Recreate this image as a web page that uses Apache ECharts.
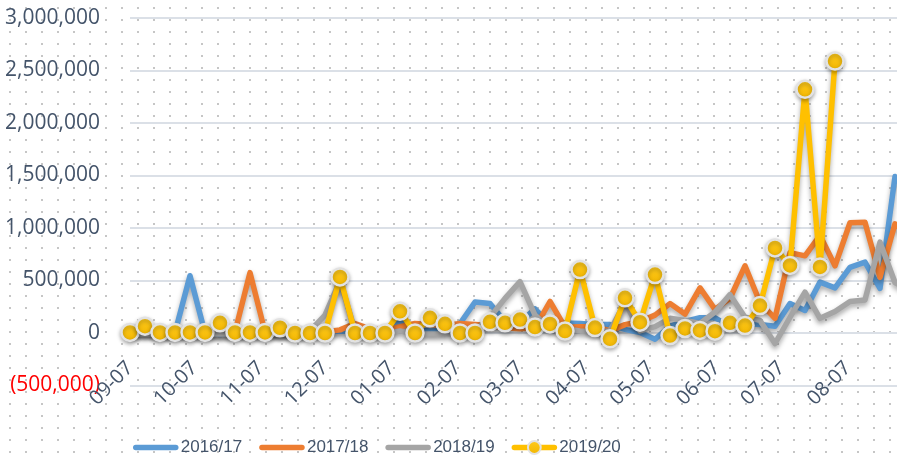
<!DOCTYPE html>
<html>
<head>
<meta charset="utf-8">
<script src="https://cdn.jsdelivr.net/npm/echarts@6/dist/echarts.min.js"></script>
<style>
  html, body { margin: 0; padding: 0; background: #ffffff; overflow: hidden; }
  #chart {
    width: 897px; height: 457px;
    background-color: #ffffff;
    background-image: radial-gradient(circle, #c6c6c6 0.9px, rgba(255,255,255,0) 1.3px);
    background-size: 16px 12px;
    background-position: 2px 2px;
  }
</style>
</head>
<body>
<div id="chart"></div>
<script>
// Weekly series, first week starting 09-07; one value per week.
const seriesNames = ['2016/17', '2017/18', '2018/19', '2019/20'];

const values1617 = [
  5000, 0, 0, 5000, 545000, 0, -15000, 0, 0, 5000,
  0, 0, 5000, 10000, 20000, 15000, 10000, 40000, 110000, 30000,
  20000, 25000, 90000, 295000, 280000, 110000, 100000, 230000, 80000, 95000,
  90000, 80000, 80000, 35000, 5000, -60000, 65000, 110000, 145000, 145000,
  60000, 90000, 80000, 65000, 280000, 215000, 485000, 430000, 625000, 675000,
  425000, 1490000, 1300000
];
const values1718 = [
  0, 20000, 0, 0, 0, 0, 10000, 10000, 575000, 10000,
  0, 0, 0, 10000, 30000, 90000, 40000, 30000, 60000, 90000,
  80000, 70000, 90000, 80000, 70000, 50000, 40000, 50000, 300000, 55000,
  60000, 60000, 20000, 80000, 110000, 170000, 280000, 180000, 430000, 225000,
  330000, 640000, 290000, 140000, 765000, 735000, 930000, 640000, 1050000, 1055000,
  530000, 1040000, 900000
];
const values1819 = [
  -10000, -10000, -10000, -10000, -10000, -10000, -10000, -10000, -5000, -10000,
  -10000, -10000, 20000, 170000, 500000, 20000, -10000, -10000, 20000, -10000,
  -10000, -10000, -10000, 20000, 150000, 330000, 490000, 170000, 40000, 40000,
  20000, 10000, 20000, 290000, 20000, 60000, 140000, 120000, 90000, 200000,
  365000, 150000, 120000, -100000, 150000, 390000, 140000, 205000, 300000, 315000,
  865000, 480000, 400000
];
const values1920 = [
  5000, 65000, 5000, 5000, 5000, 5000, 97000, 5000, 5000, 5000,
  50000, 0, 0, 0, 534000, 0, 0, 0, 207000, 0,
  145000, 87000, 0, 0, 106000, 97000, 128000, 57000, 86000, 19000,
  604000, 52000, -55000, 335000, 103000, 556000, -24000, 43000, 24000, 17000,
  97000, 71000, 261000, 810000, 644000, 2321000, 629000, 2590000
];

// Value axis ticks
const yMin = -500000;
const yMax = 3000000;
const yStep = 500000;

// Daily date axis: 09-07 through the following 09-05
const axisStart = new Date(Date.UTC(2019, 8, 7));
const axisDays = 365;
const pad = n => String(n).padStart(2, '0');
const dayLabels = [];
for (let d = 0; d < axisDays; d++) {
  const dt = new Date(axisStart.getTime() + d * 86400000);
  dayLabels.push(pad(dt.getUTCMonth() + 1) + '-' + pad(dt.getUTCDate()));
}
// Place each weekly value on its day of the axis
const weekly = vals => vals.map((v, i) => [i * 7, v]);

const colors = ['#5b9bd5', '#ed7d31', '#a5a5a5', '#ffc000'];
const textColor = '#44546a';
const fmt = v => Math.abs(v).toLocaleString('en-US');

// plot area geometry
const gridTop = 18;
const gridHeight = 367.5;
const zeroOffset = gridHeight * (0 - yMin) / (yMax - yMin);

const lineShadow = {
  shadowColor: 'rgba(0,0,0,0.35)',
  shadowBlur: 5,
  shadowOffsetY: 3
};

function plainSeries(name, vals, color) {
  return {
    name, type: 'line', data: weekly(vals),
    symbol: 'none', smooth: false,
    lineStyle: Object.assign({ color, width: 5.5, cap: 'round', join: 'round' }, lineShadow),
    itemStyle: { color },
    z: 2
  };
}

const hiddenMarker = { opacity: 0 };

const chart = echarts.init(document.getElementById('chart'), null, { renderer: 'canvas' });
chart.setOption({
  backgroundColor: 'transparent',
  animation: false,
  color: colors,
  grid: {
    left: 130, width: 780, top: gridTop, height: gridHeight,
    containLabel: false, outerBoundsMode: 'none'
  },
  legend: {
    data: [
      { name: seriesNames[0], itemStyle: hiddenMarker },
      { name: seriesNames[1], itemStyle: hiddenMarker },
      { name: seriesNames[2], itemStyle: hiddenMarker },
      { name: seriesNames[3] }
    ],
    left: 133, top: 439, padding: 0,
    itemWidth: 40, itemHeight: 16, itemGap: 17,
    lineStyle: { width: 5.5, cap: 'round' },
    textStyle: { fontFamily: 'Liberation Sans', fontSize: 17, color: textColor }
  },
  xAxis: {
    type: 'category',
    data: dayLabels,
    boundaryGap: false,
    offset: -zeroOffset,
    axisLine: { show: false, onZero: false },
    axisTick: { show: false },
    splitLine: { show: false },
    axisLabel: {
      interval: (idx, val) => val.endsWith('-07'),
      rotate: 45,
      margin: 32,
      color: textColor,
      fontFamily: 'Open Sans',
      fontSize: 20
    }
  },
  yAxis: {
    type: 'value',
    min: yMin, max: yMax, interval: yStep,
    axisLine: { show: false },
    axisTick: { show: false },
    splitLine: { lineStyle: { color: '#dbe0e7', width: 2 } },
    axisLabel: {
      margin: 30,
      color: textColor,
      fontFamily: 'Open Sans',
      fontSize: 21,
      formatter: v => v < 0 ? '{neg|(' + fmt(v) + ')}' : fmt(v),
      rich: { neg: { color: '#ff0000', fontFamily: 'Open Sans', fontSize: 21 } }
    }
  },
  series: [
    plainSeries(seriesNames[0], values1617, colors[0]),
    plainSeries(seriesNames[1], values1718, colors[1]),
    plainSeries(seriesNames[2], values1819, colors[2]),
    {
      name: seriesNames[3], type: 'line', data: weekly(values1920),
      symbol: 'circle', symbolSize: 17, showSymbol: true, showAllSymbol: true,
      lineStyle: Object.assign({ color: colors[3], width: 5.5, cap: 'round', join: 'round' }, lineShadow),
      itemStyle: {
        color: new echarts.graphic.LinearGradient(0, 0, 0, 1, [
          { offset: 0, color: '#ffcb1f' },
          { offset: 1, color: '#f2b600' }
        ]),
        borderColor: '#e2e2e2',
        borderWidth: 2.5,
        shadowColor: 'rgba(0,0,0,0.3)',
        shadowBlur: 4,
        shadowOffsetY: 2
      },
      z: 3
    }
  ]
});
</script>
</body>
</html>
